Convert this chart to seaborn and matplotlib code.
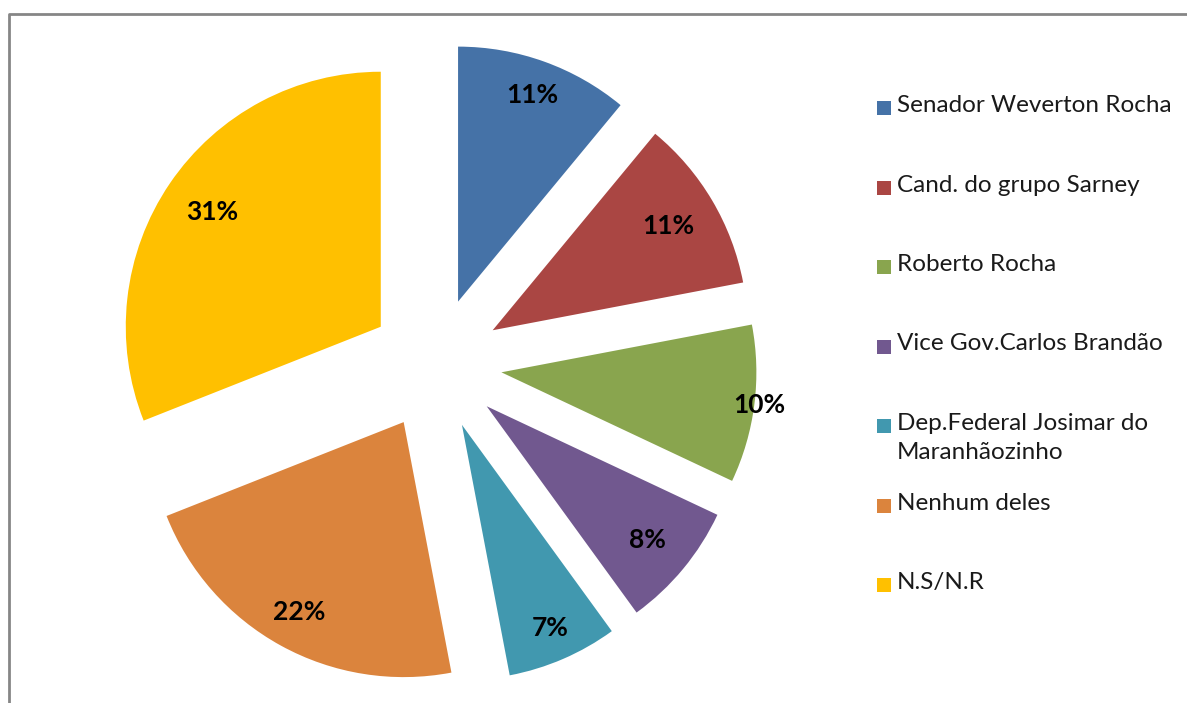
import matplotlib.pyplot as plt
import seaborn as sns
import numpy as np
from matplotlib.patches import Rectangle
from matplotlib.lines import Line2D

labels = ["Senador Weverton Rocha", "Cand. do grupo Sarney", "Roberto Rocha",
          "Vice Gov.Carlos Brandão", "Dep.Federal Josimar do\nMaranhãozinho",
          "Nenhum deles", "N.S/N.R"]
values = [11, 11, 10, 8, 7, 22, 31]
colors = ["#4572A7", "#AA4643", "#89A54E", "#71588F", "#4198AF", "#DB843D", "#FFC000"]
# where each % label sits, as a fraction of the radius from the slice tip
label_dist = [0.86, 0.80, 1.02, 0.82, 0.87, 0.85, 0.80]

sns.set_theme(style="white")
plt.rcParams['font.family'] = ['Lato', 'DejaVu Sans']

W, H = 1187, 703
fig = plt.figure(figsize=(W / 100, H / 100), dpi=100)
ax = fig.add_axes([0, 0, 1, 1])

wedges, texts, autotexts = ax.pie(values, colors=colors, startangle=90, counterclock=False,
                                  explode=[0.26] * len(values), autopct='%1.0f%%',
                                  wedgeprops=dict(linewidth=0),
                                  textprops=dict(fontsize=19, fontweight='bold', color='black'))

for w, t, d in zip(wedges, autotexts, label_dist):
    mid = np.deg2rad((w.theta1 + w.theta2) / 2)
    t.set_position((w.center[0] + d * np.cos(mid), w.center[1] + d * np.sin(mid)))

# pixel geometry: radius 255 px, centre at (435.6, 364)
r, cx, cy = 255, 435.6, 364
ax.set_xlim(-cx / r, (W - cx) / r)
ax.set_ylim(-(H - cy) / r, cy / r)
ax.set_aspect('auto')
ax.axis('off')

# legend
for i, (lab, col) in enumerate(zip(labels, colors)):
    yc = 108 + i * 79.5
    fig.patches.append(Rectangle((877 / W, 1 - (yc + 7) / H), 14 / W, 14 / H,
                                 transform=fig.transFigure, facecolor=col, edgecolor='none'))
    fig.text(897 / W, 1 - (yc - 13) / H, lab, fontsize=17.5, va='top', ha='left',
             color='#1a1a1a', linespacing=1.45)

# chart frame (cut at right and bottom)
fig.add_artist(Line2D([9 / W, 9 / W, 1], [0, 1 - 14 / H, 1 - 14 / H],
                      transform=fig.transFigure, color='#868686', linewidth=2))

fig.savefig("out.png", dpi=100)
